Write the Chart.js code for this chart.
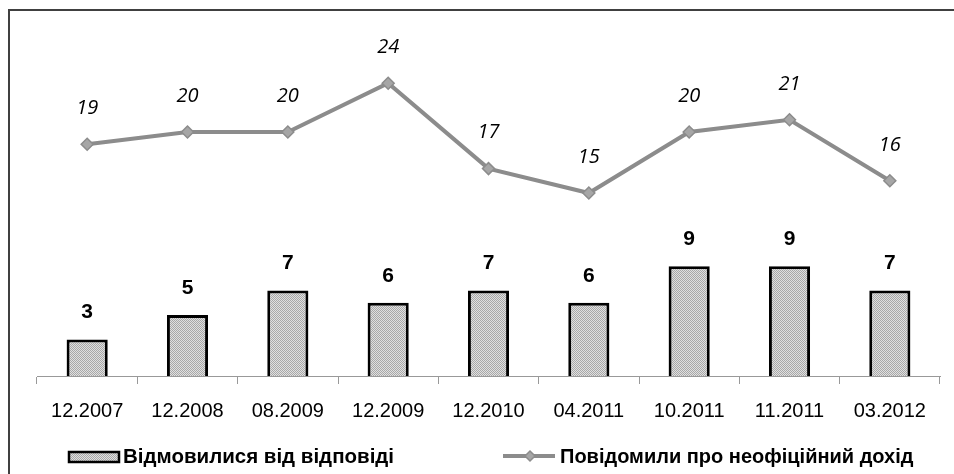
<!DOCTYPE html>
<html><head><meta charset="utf-8">
<script src="https://cdn.jsdelivr.net/npm/chart.js@4/dist/chart.umd.min.js"></script>
<style>html,body{margin:0;padding:0;background:#fff}#w{width:954px;height:474px}</style>
</head><body><div id="w"><canvas id="c" width="954" height="474"></canvas></div>
<script>
const categories = ["12.2007","12.2008","08.2009","12.2009","12.2010","04.2011","10.2011","11.2011","03.2012"];
const refused = [3,5,7,6,7,6,9,9,7];
const informalIncome = [19,20,20,24,17,15,20,21,16];
const seriesNames = ["Відмовилися від відповіді","Повідомили про неофіційний дохід"];

const FONT = "'Liberation Sans',Arial,sans-serif";

function makePattern(){
  const p = document.createElement('canvas'); p.width=2; p.height=2;
  const g = p.getContext('2d');
  g.fillStyle='#e0e0e0'; g.fillRect(0,0,2,2);
  g.fillStyle='#a8a8a8'; g.fillRect(0,0,1,1); g.fillRect(1,1,1,1);
  return g.createPattern(p,'repeat');
}
const ctx0 = document.getElementById('c').getContext('2d');
const pattern = makePattern();

const extras = {
  id:'extras',
  beforeDraw(chart){
    const c=chart.ctx; c.save();
    c.strokeStyle='#404040'; c.lineWidth=2;
    c.beginPath(); c.moveTo(9,474); c.lineTo(9,10); c.lineTo(954,10); c.stroke();
    c.restore();
  },
  afterDatasetsDraw(chart){
    const c=chart.ctx; c.save();
    c.textAlign='center'; c.textBaseline='middle'; c.fillStyle='#000';
    const mb=chart.getDatasetMeta(0);
    c.font="bold 21px "+FONT;
    mb.data.forEach((el,i)=>{ c.fillText(String(refused[i]), el.x, el.y-27); });
    const ml=chart.getDatasetMeta(1);
    c.font="italic 20px 'Open Sans',sans-serif";
    ml.data.forEach((el,i)=>{ c.fillText(String(informalIncome[i]), el.x, el.y-36); });
    // legend
    const ly=457;
    c.fillStyle=pattern; c.fillRect(69,452,50,10);
    c.strokeStyle='#000'; c.lineWidth=2.5; c.strokeRect(69,452,50,10);
    c.fillStyle='#000'; c.textAlign='left';
    c.font="bold 20.5px "+FONT;
    c.fillText(seriesNames[0],123,ly);
    c.strokeStyle='#8c8c8c'; c.lineWidth=4;
    c.beginPath(); c.moveTo(503,ly-1); c.lineTo(555,ly-1); c.stroke();
    c.fillStyle='#a6a6a6'; c.strokeStyle='#8c8c8c'; c.lineWidth=1.5;
    c.beginPath(); c.moveTo(530,ly-6); c.lineTo(535,ly-1); c.lineTo(530,ly+4); c.lineTo(525,ly-1); c.closePath(); c.fill(); c.stroke();
    c.fillStyle='#000';
    c.font="bold 20px "+FONT;
    c.fillText(seriesNames[1],560,ly);
    c.restore();
  }
};

new Chart(ctx0,{
  data:{
    labels:categories,
    datasets:[
      {type:'bar',label:seriesNames[0],data:refused,backgroundColor:pattern,borderColor:'#000',borderWidth:3,borderSkipped:'bottom',barPercentage:0.41,categoryPercentage:1,order:2},
      {type:'line',label:seriesNames[1],data:informalIncome,borderColor:'#8c8c8c',borderWidth:4,pointStyle:'rectRot',pointRadius:6,pointBackgroundColor:'#a6a6a6',pointBorderColor:'#8c8c8c',pointBorderWidth:1.5,tension:0,order:1}
    ]
  },
  options:{
    responsive:false,animation:false,
    layout:{padding:{left:37,right:14,top:10,bottom:38}},
    plugins:{legend:{display:false},tooltip:{enabled:false}},
    scales:{
      y:{display:false,min:0,max:30},
      x:{
        offset:true,
        afterFit(s){ s.height=60; },
        border:{display:true,color:'#999',width:1},
        grid:{offset:true,drawOnChartArea:false,drawTicks:true,tickLength:8,color:'#999'},
        ticks:{color:'#000',padding:15,font:{family:FONT,size:20}}
      }
    }
  },
  plugins:[extras]
});
</script></body></html>
